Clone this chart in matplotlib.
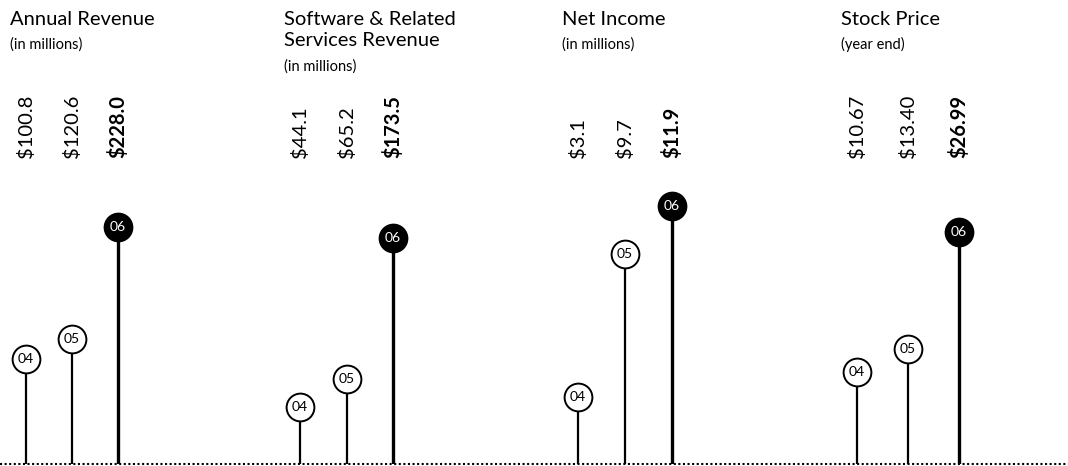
import matplotlib.pyplot as plt
from matplotlib.transforms import blended_transform_factory
from matplotlib.lines import Line2D

# chart data
years = ['04', '05', '06']
titles = ['Annual Revenue', 'Software & Related\nServices Revenue', 'Net Income', 'Stock Price']
subtitles = ['(in millions)', '(in millions)', '(in millions)', '(year end)']
annual_revenue = [100.8, 120.6, 228.0]
software_revenue = [44.1, 65.2, 173.5]
net_income = [3.1, 9.7, 11.9]
stock_price = [10.67, 13.40, 26.99]
value_labels = [
    ['$100.8', '$120.6', '$228.0'],
    ['$44.1', '$65.2', '$173.5'],
    ['$3.1', '$9.7', '$11.9'],
    ['$10.67', '$13.40', '$26.99'],
]
series = [annual_revenue, software_revenue, net_income, stock_price]

# layout (pixels)
W, H = 1068, 466
panel_left = [0, 275, 554, 831]
first_x = [26, 25, 24, 26]
step = [46, 46.5, 47, 51]
peak_px = [237, 226, 258, 232]
base_y = 464
top_y = 180

plt.rcParams['font.family'] = ['Lato', 'DejaVu Sans']
fig = plt.figure(figsize=(W / 100, H / 100), dpi=100)

for i, vals in enumerate(series):
    left = panel_left[i]
    right = panel_left[i + 1] if i < 3 else W
    ax = fig.add_axes([left / W, (H - base_y) / H, (right - left) / W, (base_y - top_y) / H])
    ax.set_xlim(-first_x[i] / step[i], (right - left - first_x[i]) / step[i])
    ymax = max(vals) * (base_y - top_y) / peak_px[i]
    ax.set_ylim(0, ymax)
    ax.axis('off')
    trans = blended_transform_factory(ax.transData, fig.transFigure)
    for j, v in enumerate(vals):
        last = j == len(vals) - 1
        ax.vlines(j, 0, v, color='black', lw=2.4 if last else 1.6, zorder=1)
        ax.plot(j, v, 'o', ms=20, mfc='black' if last else 'white',
                mec='black', mew=1.4, zorder=2)
        ax.text(j, v, years[j], ha='center', va='center', fontsize=10,
                color='white' if last else 'black', zorder=3)
        ax.text(j, (H - 158) / H, value_labels[i][j], transform=trans, rotation=90,
                ha='center', va='bottom', fontsize=14.5,
                fontweight='bold' if last else 'normal')
    # titles
    tx = (left + first_x[i] - 16) / W
    fig.text(tx, (H - 11) / H, titles[i], ha='left', va='top', fontsize=14.5,
             linespacing=1.25)
    sub_y = 37 if '\n' not in titles[i] else 59
    fig.text(tx, (H - sub_y) / H, subtitles[i], ha='left', va='top', fontsize=10.5)

fig.add_artist(Line2D([0, 1], [(H - base_y) / H] * 2, color='black', lw=1.5,
                      ls=(0, (1, 1.2)), transform=fig.transFigure))

fig.savefig('out.png', dpi=100)
